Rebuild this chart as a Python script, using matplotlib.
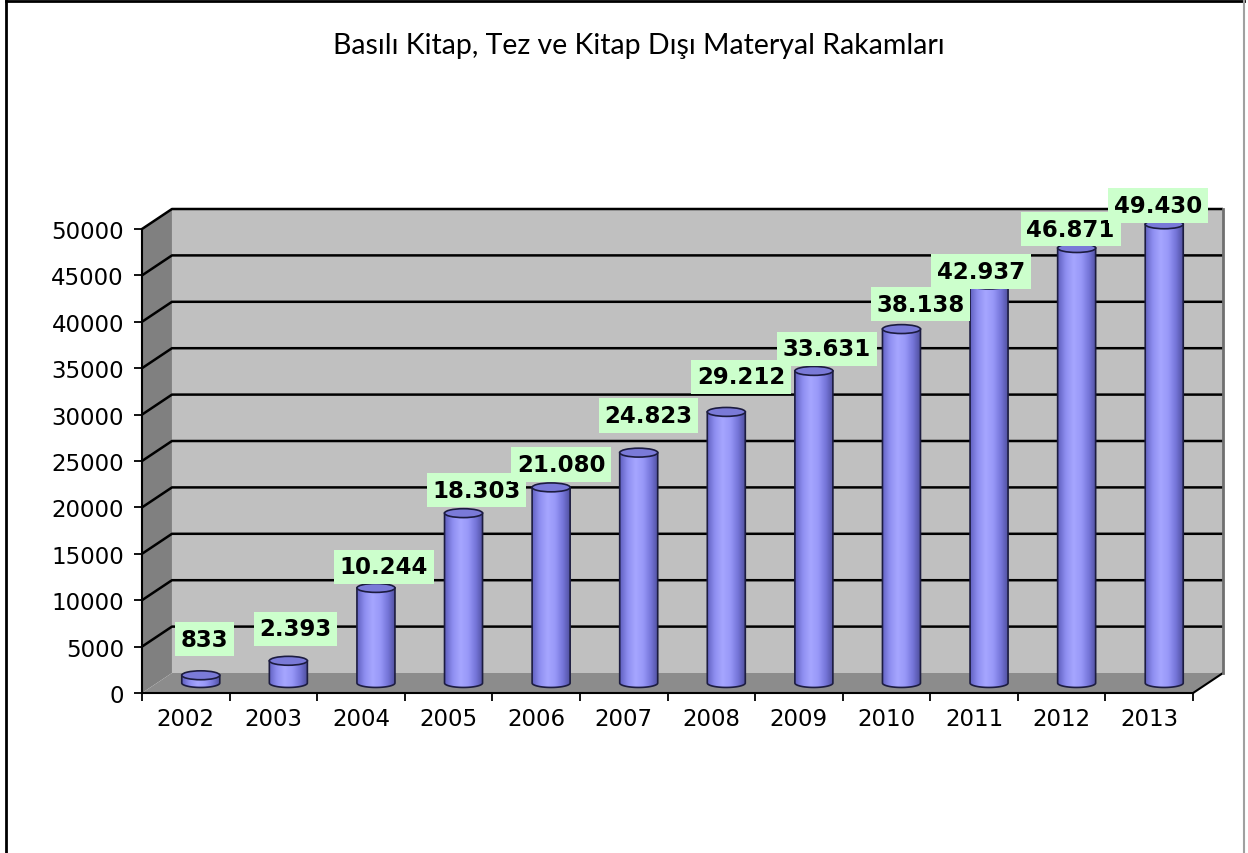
import numpy as np
import matplotlib
matplotlib.use('Agg')
import matplotlib.pyplot as plt
from matplotlib.patches import Polygon, Ellipse
from matplotlib.lines import Line2D
from matplotlib.colors import LinearSegmentedColormap

# data
years = ['2002', '2003', '2004', '2005', '2006', '2007',
         '2008', '2009', '2010', '2011', '2012', '2013']
values = [833, 2393, 10244, 18303, 21080, 24823,
          29212, 33631, 38138, 42937, 46871, 49430]
value_labels = ['833', '2.393', '10.244', '18.303', '21.080', '24.823',
                '29.212', '33.631', '38.138', '42.937', '46.871', '49.430']
y_ticks = np.arange(0, 50001, 5000)
title = 'Basılı Kitap, Tez ve Kitap Dışı Materyal Rakamları'

# label nudges in pixels (Excel shuffles them around to avoid overlaps)
label_dx = [4, 7, 8, 13, 10, 10, 15, 13, 19, -8, -6, -6]
label_dy = [36, 32, 21, 23, 23, 37, 35, 22, 25, 13, 19, 19]

W, H = 1248, 854
fig = plt.figure(figsize=(W / 100, H / 100), dpi=100, facecolor='white')
ax = fig.add_axes([142 / W, 160 / H, 1081 / W, 484 / H])

n = len(years)
ymax = 50000
ddx = 0.342   # fake 3d depth, category units
ddy = 2155    # fake 3d depth, value units

# walls and floor
back = Polygon([(-0.5 + ddx, ddy), (n - 0.5 + ddx, ddy),
                (n - 0.5 + ddx, ymax + ddy), (-0.5 + ddx, ymax + ddy)],
               facecolor='#c0c0c0', edgecolor='none', zorder=0)
side = Polygon([(-0.5, 0), (-0.5 + ddx, ddy), (-0.5 + ddx, ymax + ddy), (-0.5, ymax)],
               facecolor='#808080', edgecolor='none', zorder=0)
floor = Polygon([(-0.5, 0), (n - 0.5, 0), (n - 0.5 + ddx, ddy), (-0.5 + ddx, ddy)],
                facecolor='#8c8c8c', edgecolor='none', zorder=0)
for p in (back, side, floor):
    ax.add_patch(p)

# gridlines on side + back wall
for v in y_ticks[1:]:
    ax.plot([-0.5, -0.5 + ddx, n - 0.5 + ddx], [v, v + ddy, v + ddy],
            color='black', lw=1.8, zorder=1, clip_on=False, solid_capstyle='butt')
ax.plot([n - 0.5, n - 0.5 + ddx], [0, ddy], color='black', lw=1.5, zorder=1, clip_on=False)
ax.plot([n - 0.5 + ddx] * 2, [ddy, ymax + ddy], color='#707070', lw=2, zorder=1, clip_on=False)

# cylinders
bw = 0.434
eh = 480  # half height of the end ellipses, value units
cmap = LinearSegmentedColormap.from_list(
    'cyl', ['#6060c0', '#8e8ef0', '#a6a6ff', '#9898f8', '#7474d8', '#4c4c98'])
grad = np.linspace(0, 1, 256).reshape(1, -1)

bars = ax.bar(np.arange(n) + ddx / 2, values, width=bw, bottom=ddy / 2,
              color='none', edgecolor='none', zorder=3)
t = np.linspace(np.pi, 2 * np.pi, 60)
for rect in bars:
    x0, y0 = rect.get_x(), rect.get_y()
    w, h = rect.get_width(), rect.get_height()
    xc = x0 + w / 2
    bx = xc + w / 2 * np.cos(t)
    by = y0 + eh * np.sin(t)
    verts = list(zip(bx, by)) + [(x0 + w, y0 + h), (x0, y0 + h)]
    body = Polygon(verts, closed=True, facecolor='none', edgecolor='#1c1c40',
                   lw=1.2, zorder=3.1)
    ax.add_patch(body)
    im = ax.imshow(grad, cmap=cmap, extent=(x0, x0 + w, y0 - eh, y0 + h),
                   aspect='auto', zorder=3, interpolation='bicubic')
    im.set_clip_path(body)
    ax.add_patch(Ellipse((xc, y0 + h), w, 2 * eh, facecolor='#7a7ad8',
                         edgecolor='#1c1c40', lw=1.2, zorder=3.2))

for rect, lab, dx, dy in zip(bars, value_labels, label_dx, label_dy):
    ax.annotate(lab, xy=(rect.get_x() + rect.get_width() / 2, rect.get_y() + rect.get_height()),
                xytext=(dx, dy), textcoords='offset pixels', ha='center', va='center',
                fontsize=16.5, fontweight='bold', family='DejaVu Sans', color='black',
                bbox=dict(boxstyle='square,pad=0.25', fc='#ccffcc', ec='none'),
                zorder=6, annotation_clip=False)

ax.set_xlim(-0.5, n - 0.5 + ddx)
ax.set_ylim(0, ymax + ddy)
ax.set_facecolor('none')

ax.set_yticks(y_ticks)
ax.set_yticklabels([str(v) for v in y_ticks], fontsize=16.5, family='DejaVu Sans')
ax.set_xticks(np.arange(n + 1) - 0.5)
ax.set_xticklabels([])
ax.set_xticks(np.arange(n), minor=True)
ax.set_xticklabels(years, minor=True, fontsize=16.5, family='DejaVu Sans')
ax.tick_params(axis='x', which='minor', length=0, pad=10)
ax.tick_params(axis='x', which='major', length=6, width=1.3, direction='out')
ax.tick_params(axis='y', length=6, width=1.3, direction='out', pad=7)
for s in ('top', 'right'):
    ax.spines[s].set_visible(False)
ax.spines['bottom'].set_bounds(-0.5, n - 0.5)
ax.spines['left'].set_bounds(0, ymax)
ax.spines['bottom'].set_linewidth(1.5)
ax.spines['left'].set_linewidth(1.5)

fig.text(639 / W, 1 - 46 / H, title, ha='center', va='center', fontsize=20.5, family='Lato')

# outer frame
fig.add_artist(Line2D([6 / W, 6 / W], [0, 1 - 1.5 / H], color='black', lw=2, transform=fig.transFigure))
fig.add_artist(Line2D([6 / W, 1244 / W], [1 - 1.5 / H] * 2, color='black', lw=2, transform=fig.transFigure))
fig.add_artist(Line2D([1244 / W, 1244 / W], [0, 1 - 1.5 / H], color='#a0a0a0', lw=1.5, transform=fig.transFigure))

fig.savefig('out.png', dpi=100)
